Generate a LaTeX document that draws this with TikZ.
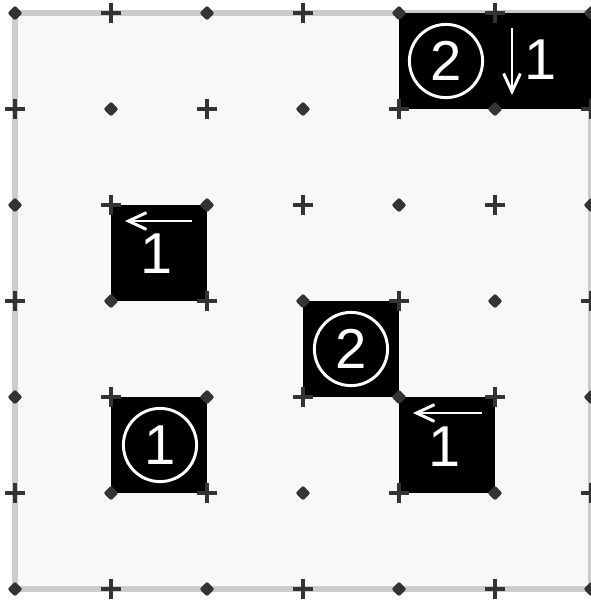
\documentclass[tikz,border=0pt]{standalone}
\usepackage{fontspec}
\setmainfont{Liberation Sans}
\usetikzlibrary{arrows.meta}

\definecolor{boardbg}{HTML}{F8F8F8}
\definecolor{framegray}{HTML}{CCCCCC}
\definecolor{markgray}{HTML}{333333}

\begin{document}
\begin{tikzpicture}[
  x=0.025cm, y=-0.025cm,
  cell/.style={fill=black, inner sep=0pt, outer sep=0pt, minimum width=2.4cm, minimum height=2.4cm},
  num/.style={text=white, inner sep=0pt, font=\fontsize{41}{41}\selectfont},
  circnum/.style={circle, draw=white, line width=2.1pt, minimum size=1.83cm, inner sep=0pt, text=white, font=\fontsize{40}{40}\selectfont},
  cluearr/.style={draw=white, line width=2.1pt, -{Straight Barb[length=4.5mm, width=4.2mm, line width=2.1pt]}},
  crossmark/.style={draw=markgray, line width=2.4pt}
]

% board
\fill[white] (0,0) rectangle (591,601);
\useasboundingbox (0,0) rectangle (591,601);
\fill[boardbg] (15,13) rectangle (591,589);
\draw[framegray, line width=4.3pt] (15,13) rectangle (591,589);

% shaded cells
\node[cell, minimum width=4.8cm] (c40) at (495,61) {};
\node[cell] (c12) at (159,253) {};
\node[cell] (c33) at (351,349) {};
\node[cell] (c14) at (159,445) {};
\node[cell] (c44) at (447,445) {};

% grid points: dots and crosses
\foreach \i in {0,...,6} {
  \foreach \j in {0,...,6} {
    \pgfmathtruncatemacro\odd{mod(\i+\j,2)}
    \pgfmathsetmacro\px{15+96*\i}
    \pgfmathsetmacro\py{13+96*\j}
    \ifnum\odd=0
      \fill[markgray, rounded corners=1.5] (\px,\py-7.5) -- (\px+7.5,\py) -- (\px,\py+7.5) -- (\px-7.5,\py) -- cycle;
    \else
      \draw[crossmark] (\px-10,\py) -- (\px+10,\py) (\px,\py-10) -- (\px,\py+10);
    \fi
  }
}

% clues
\node[circnum] (k40) at (446,61) {2};
\coordinate (d40a) at (512,28);
\coordinate (d40b) at (512,95);
\draw[cluearr] (d40a) -- (d40b);
\node[num] (n40) at (541,60) {1};

\coordinate (d12a) at (192,221);
\coordinate (d12b) at (125,221);
\draw[cluearr] (d12a) -- (d12b);
\node[num] (n12) at (157,254) {1};

\node[circnum] (k33) at (351,349) {2};

\node[circnum] (k14) at (160,445) {1};

\coordinate (d44a) at (482,413);
\coordinate (d44b) at (413,413);
\draw[cluearr] (d44a) -- (d44b);
\node[num] (n44) at (445,447) {1};

\end{tikzpicture}
\end{document}
